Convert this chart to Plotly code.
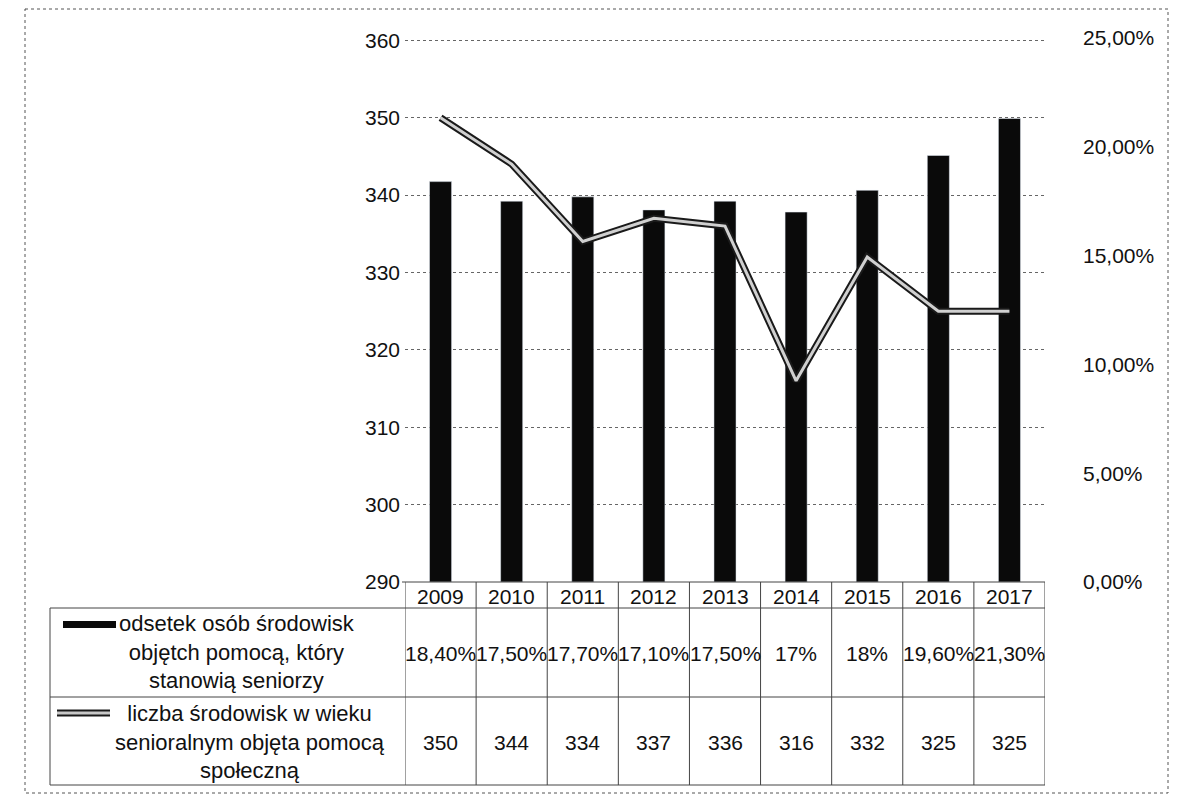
import plotly.graph_objects as go

# data
years = ['2009', '2010', '2011', '2012', '2013', '2014', '2015', '2016', '2017']
odsetek = [0.184, 0.175, 0.177, 0.171, 0.175, 0.17, 0.18, 0.196, 0.213]
odsetek_txt = ['18,40%', '17,50%', '17,70%', '17,10%', '17,50%', '17%', '18%', '19,60%', '21,30%']
liczba = [350, 344, 334, 337, 336, 316, 332, 325, 325]

name_bar = 'odsetek osób środowisk<br>objętch pomocą, który<br>stanowią seniorzy'
name_line = 'liczba środowisk w wieku<br>senioralnym objęta pomocą<br>społeczną'

OFF = 8                       # page body margin
W, H = 1178 - 2 * OFF, 803 - 2 * OFF
L, R, T, B = 405, 1045, 38, 582   # plot area, in window pixels
FONT = 'Liberation Sans, Arial, sans-serif'


def px_x(x):
    return (x - L) / (R - L)


def px_y(y):
    return (B - y) / (B - T)


fig = go.Figure()

# bars on the right (percent) axis, line on the left axis overlaying it
fig.add_trace(go.Bar(x=years, y=odsetek, yaxis='y', marker_color='#0a0a0a',
                     width=0.31, name='odsetek'))
fig.add_trace(go.Scatter(x=years, y=liczba, yaxis='y2', mode='lines',
                         line=dict(color='#1a1a1a', width=7), name='liczba'))
fig.add_trace(go.Scatter(x=years, y=liczba, yaxis='y2', mode='lines',
                         line=dict(color='#d0d0d0', width=3), name='liczba2'))

shapes = []
annots = []

ln = dict(color='#444', width=1)
# table: year header row
shapes.append(dict(type='line', xref='paper', yref='paper', x0=px_x(402), x1=px_x(1045),
                   y0=px_y(582), y1=px_y(582), line=ln))
# horizontal lines
for yy in [608, 697, 785]:
    shapes.append(dict(type='line', xref='paper', yref='paper', x0=px_x(50), x1=px_x(1045),
                       y0=px_y(yy), y1=px_y(yy), line=ln))
# vertical lines
shapes.append(dict(type='line', xref='paper', yref='paper', x0=px_x(50), x1=px_x(50),
                   y0=px_y(608), y1=px_y(785), line=ln))
for i in range(len(years) + 1):
    shapes.append(dict(type='line', xref='x', yref='paper', x0=i - 0.5, x1=i - 0.5,
                       y0=px_y(582), y1=px_y(785), line=ln))

# outer dashed frame
shapes.append(dict(type='rect', xref='paper', yref='paper', x0=px_x(25), x1=px_x(1168),
                   y0=px_y(9), y1=px_y(793), line=dict(color='#555', width=1, dash='dot')))

# legend keys
shapes.append(dict(type='rect', xref='paper', yref='paper', x0=px_x(63), x1=px_x(116),
                   y0=px_y(621), y1=px_y(628), fillcolor='#0a0a0a', line=dict(width=0)))
shapes.append(dict(type='line', xref='paper', yref='paper', x0=px_x(57), x1=px_x(110),
                   y0=px_y(713), y1=px_y(713), line=dict(color='#1a1a1a', width=7)))
shapes.append(dict(type='line', xref='paper', yref='paper', x0=px_x(57), x1=px_x(110),
                   y0=px_y(713), y1=px_y(713), line=dict(color='#c8c8c8', width=3)))

tf = dict(family=FONT, size=21, color='#111')
for i, yr in enumerate(years):
    annots.append(dict(x=i, y=px_y(596), xref='x', yref='paper', text=yr,
                       showarrow=False, font=tf, yanchor='middle'))
    annots.append(dict(x=i, y=px_y(653), xref='x', yref='paper', text=odsetek_txt[i],
                       showarrow=False, font=tf, yanchor='middle'))
    annots.append(dict(x=i, y=px_y(742), xref='x', yref='paper', text=str(liczba[i]),
                       showarrow=False, font=tf, yanchor='middle'))

lf = dict(family=FONT, size=22, color='#111')
annots.append(dict(x=px_x(237), y=px_y(652), xref='paper', yref='paper', text=name_bar,
                   showarrow=False, font=lf, align='center', xanchor='center', yanchor='middle'))
annots.append(dict(x=px_x(250), y=px_y(742), xref='paper', yref='paper', text=name_line,
                   showarrow=False, font=lf, align='center', xanchor='center', yanchor='middle'))

fig.update_layout(
    width=W, height=H,
    margin=dict(l=L - OFF, r=W - (R - OFF), t=T - OFF, b=H - (B - OFF), pad=0),
    paper_bgcolor='white', plot_bgcolor='white',
    showlegend=False,
    separators=', ',
    font=dict(family=FONT, size=21, color='#111'),
    xaxis=dict(type='category', showticklabels=False, showgrid=False, zeroline=False,
               showline=False, range=[-0.5, 8.5]),
    yaxis=dict(side='right', range=[0, 0.25], tickvals=[0, 0.05, 0.1, 0.15, 0.2, 0.25],
               tickformat='.2%', showgrid=False, zeroline=False, showline=False,
               ticklabelstandoff=37, tickfont=dict(size=21)),
    yaxis2=dict(side='left', overlaying='y', range=[290, 360.3], dtick=10,
                showgrid=True, gridcolor='#666', griddash='dot', gridwidth=1,
                zeroline=False, showline=False, ticklabelstandoff=4,
                tickfont=dict(size=21)),
    shapes=shapes,
    annotations=annots,
)

fig.write_html('out.html')
